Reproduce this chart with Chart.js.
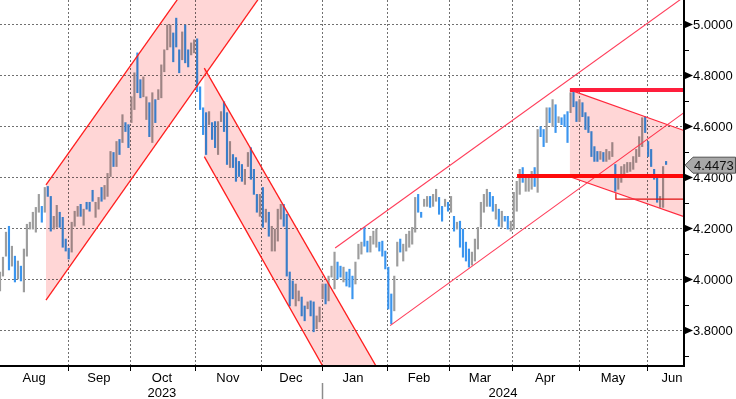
<!DOCTYPE html>
<html>
<head>
<meta charset="utf-8">
<title>Yield channels</title>
<script src="https://cdn.jsdelivr.net/npm/chart.js"></script>
<style>
  body { margin: 0; background: #fff; }
  #wrap { width: 736px; height: 399px; position: relative; }
</style>
</head>
<body>
<div id="wrap"><canvas id="yieldChart"></canvas></div>
<script>
// daily bars, one per trading day from the start of Aug 2023
const highs = [
  4.029, 4.087, 4.185, 4.208, 4.130, 4.091, 4.072, 4.052, 4.119, 4.216,
  4.224, 4.263, 4.282, 4.333, 4.286, 4.360, 4.364, 4.325, 4.247, 4.290,
  4.263, 4.243, 4.158, 4.122, 4.224, 4.267, 4.286, 4.294, 4.275, 4.302,
  4.302, 4.349, 4.302, 4.321, 4.360, 4.368, 4.415, 4.501, 4.497, 4.540,
  4.548, 4.645, 4.614, 4.606, 4.715, 4.809, 4.887, 4.782, 4.793, 4.715,
  4.692, 4.731, 4.704, 4.743, 4.840, 4.899, 4.996, 4.996, 4.965, 5.023,
  4.899, 4.969, 4.996, 4.899, 4.926, 4.938, 4.942, 4.754, 4.672, 4.653,
  4.657, 4.614, 4.618, 4.618, 4.657, 4.696, 4.653, 4.540, 4.489, 4.477,
  4.462, 4.450, 4.431, 4.497, 4.516, 4.431, 4.333, 4.333, 4.360, 4.275,
  4.263, 4.208, 4.197, 4.275, 4.294, 4.294, 4.255, 4.029, 3.994, 3.982,
  3.955, 3.931, 3.896, 3.912, 3.916, 3.912, 3.857, 3.892, 3.982, 3.982,
  4.013, 4.052, 4.107, 4.068, 4.052, 4.048, 4.029, 4.040, 4.013, 4.068,
  4.138, 4.146, 4.204, 4.150, 4.169, 4.189, 4.197, 4.146, 4.150, 4.111,
  4.048, 3.943, 4.013, 4.146, 4.158, 4.138, 4.177, 4.189, 4.204, 4.321,
  4.333, 4.263, 4.314, 4.325, 4.325, 4.333, 4.353, 4.321, 4.286, 4.314,
  4.302, 4.325, 4.247, 4.224, 4.228, 4.197, 4.146, 4.119, 4.107, 4.158,
  4.204, 4.302, 4.333, 4.353, 4.341, 4.325, 4.294, 4.275, 4.267, 4.247,
  4.247, 4.228, 4.341, 4.384, 4.431, 4.438, 4.411, 4.411, 4.423, 4.438,
  4.587, 4.598, 4.587, 4.672, 4.672, 4.704, 4.684, 4.637, 4.633, 4.645,
  4.657, 4.731, 4.735, 4.696, 4.704, 4.692, 4.653, 4.637, 4.579, 4.520,
  4.501, 4.501, 4.497, 4.509, 4.501, 4.536, 4.450, 4.411, 4.442, 4.450,
  4.458, 4.458, 4.481, 4.509, 4.559, 4.633, 4.637, 4.540, 4.509, 4.431,
  4.403, 4.325, 4.442, 4.462
];
const lows = [
  3.955, 4.013, 4.091, 4.037, 4.052, 3.990, 4.002, 3.994, 3.951, 4.091,
  4.197, 4.197, 4.185, 4.263, 4.224, 4.263, 4.325, 4.189, 4.197, 4.204,
  4.204, 4.126, 4.111, 4.080, 4.107, 4.208, 4.247, 4.247, 4.212, 4.275,
  4.267, 4.306, 4.243, 4.275, 4.306, 4.314, 4.325, 4.403, 4.442, 4.442,
  4.489, 4.536, 4.579, 4.516, 4.614, 4.665, 4.731, 4.711, 4.715, 4.626,
  4.559, 4.536, 4.614, 4.704, 4.711, 4.813, 4.899, 4.910, 4.852, 4.910,
  4.809, 4.860, 4.848, 4.832, 4.879, 4.887, 4.735, 4.665, 4.567, 4.489,
  4.606, 4.548, 4.516, 4.489, 4.618, 4.579, 4.450, 4.438, 4.438, 4.384,
  4.403, 4.384, 4.372, 4.442, 4.392, 4.333, 4.263, 4.247, 4.204, 4.224,
  4.169, 4.111, 4.111, 4.150, 4.236, 4.208, 4.013, 3.896, 3.924, 3.896,
  3.916, 3.857, 3.838, 3.885, 3.857, 3.795, 3.807, 3.834, 3.924, 3.904,
  3.916, 4.009, 3.963, 4.002, 4.009, 3.990, 3.974, 3.970, 3.924, 3.982,
  4.080, 4.099, 4.130, 4.107, 4.107, 4.138, 4.126, 4.111, 4.091, 4.041,
  3.884, 3.826, 3.877, 4.052, 4.107, 4.072, 4.111, 4.126, 4.138, 4.185,
  4.263, 4.243, 4.286, 4.286, 4.282, 4.286, 4.306, 4.255, 4.228, 4.286,
  4.267, 4.263, 4.189, 4.197, 4.126, 4.087, 4.072, 4.048, 4.056, 4.072,
  4.119, 4.204, 4.263, 4.286, 4.286, 4.267, 4.236, 4.208, 4.204, 4.228,
  4.197, 4.189, 4.197, 4.267, 4.333, 4.380, 4.345, 4.345, 4.353, 4.364,
  4.341, 4.559, 4.520, 4.536, 4.614, 4.598, 4.575, 4.614, 4.606, 4.598,
  4.536, 4.653, 4.676, 4.618, 4.618, 4.637, 4.587, 4.575, 4.481, 4.462,
  4.462, 4.470, 4.462, 4.462, 4.470, 4.481, 4.345, 4.353, 4.380, 4.403,
  4.419, 4.423, 4.431, 4.458, 4.481, 4.520, 4.575, 4.481, 4.442, 4.392,
  4.302, 4.282, 4.282, 4.450
];
// 1 = up day (grey), 0 = down day (blue)
const dirs = [
  1,1,1,0,1,0,1,0,1,1,  1,1,1,1,0,1,0,0,1,1,  0,0,0,0,1,1,1,0,1,0,
  0,0,1,1,0,1,1,1,0,1,  0,1,0,0,1,1,0,0,1,1,  0,1,0,1,1,1,1,1,0,0,
  0,1,0,0,1,1,0,0,0,0,  1,0,0,1,1,0,0,1,0,0,  0,0,1,1,0,0,0,1,0,1,
  0,1,1,1,1,0,0,0,0,1,  1,0,0,1,0,0,1,1,1,0,  1,1,1,0,0,1,0,0,0,1,
  1,1,0,0,1,1,1,0,0,0,  0,0,1,1,0,1,1,1,1,1,  0,0,1,1,0,1,1,0,0,1,
  0,1,0,1,0,0,0,0,1,1,  1,1,1,1,0,0,1,0,1,0,  0,1,1,1,1,0,1,1,1,0,
  1,0,0,1,0,1,0,1,0,0,  0,1,0,0,1,0,0,0,0,0,  0,1,0,1,1,1,0,1,1,1,
  1,1,1,1,1,1,0,0,0,0,  0,1,1,0
];
const lastPrice = 4.4473;

// axes
const yTicks = [3.8, 4.0, 4.2, 4.4, 4.6, 4.8, 5.0];
const yMinorTicks = [3.7, 3.9, 4.1, 4.3, 4.5, 4.7, 4.9];
const monthEdges = [22.8, 43.5, 65.3, 87.4, 107.8, 129.6, 150.3, 171.4, 193.8, 216.6];
const monthLabels = ['Aug', 'Sep', 'Oct', 'Nov', 'Dec', 'Jan', 'Feb', 'Mar', 'Apr', 'May', 'Jun'];
const monthLabelPos = [11.4, 33.1, 54.2, 76.3, 97.4, 118.2, 140.3, 160.7, 182.5, 205.2, 225.0];
const yearLabels = ['2023', '2024'];
const yearLabelPos = [54.2, 168.4];
const yearBreak = 107.8;

// trend lines, [bar index, yield]
const ch1Upper = [[15.4, 4.370], [62, 5.139]];
const ch1Lower = [[15.4, 3.919], [89, 5.139]];
const ch2Upper = [[68.4, 4.827], [128, 3.618]];
const ch2Lower = [[68.4, 4.481], [110, 3.620]];
const ch3Upper = [[112.2, 4.123], [229, 5.106]];
const ch3Lower = [[130.6, 3.819], [229, 4.653]];
const wedgeUpper = [[190.8, 4.742], [229, 4.583]];
const wedgeLower = [[190.8, 4.402], [229, 4.246]];
const resistance = [[190.8, 4.742], [229, 4.742]];
const support = [[173.1, 4.405], [229, 4.405]];
const juneLow = [[206.2, 4.337], [206.2, 4.314], [229, 4.314]];

// shaded channels
const ch1Shade = [[15.4, 4.370], [62, 5.139], [89, 5.139], [15.4, 3.919]];
const ch2Shade = [[68.4, 4.827], [128, 3.618], [110, 3.620], [68.4, 4.481]];
const wedgeShade = [[190.8, 4.742], [229, 4.583], [229, 4.246], [190.8, 4.402]];

const GREY = '#9d9d9d';
const BLUE = '#3a95ef';
const FONT = '13px "Liberation Sans", Arial, sans-serif';

function trend(points, color, width) {
  return {
    type: 'line',
    data: points.map(p => ({ x: p[0], y: p[1] })),
    borderColor: color,
    borderWidth: width,
    pointRadius: 0,
    fill: false,
    tension: 0,
    order: 0
  };
}

const frame = {
  id: 'frame',
  beforeDatasetsDraw(chart) {
    const { ctx, chartArea: a, scales: { x, y } } = chart;
    ctx.save();
    ctx.strokeStyle = '#707070';
    ctx.lineWidth = 1;
    ctx.setLineDash([2, 2]);
    ctx.beginPath();
    yTicks.forEach(v => {
      const py = Math.round(y.getPixelForValue(v)) + 0.5;
      ctx.moveTo(a.left, py);
      ctx.lineTo(a.right, py);
    });
    monthEdges.forEach(v => {
      const px = Math.round(x.getPixelForValue(v)) + 0.5;
      ctx.moveTo(px, a.top);
      ctx.lineTo(px, a.bottom);
    });
    ctx.stroke();
    ctx.restore();
  },
  afterDatasetsDraw(chart) {
    const { ctx, chartArea: a, scales: { x, y } } = chart;
    // pink channels, multiplied so the bars show through darker
    ctx.save();
    ctx.beginPath();
    ctx.rect(a.left, a.top, a.right - a.left, a.bottom - a.top);
    ctx.clip();
    ctx.globalCompositeOperation = 'multiply';
    ctx.fillStyle = '#ffd6d6';
    [ch1Shade, ch2Shade, wedgeShade].forEach(poly => {
      ctx.beginPath();
      poly.forEach((p, i) => {
        const px = x.getPixelForValue(p[0]);
        const py = y.getPixelForValue(p[1]);
        if (i === 0) ctx.moveTo(px, py); else ctx.lineTo(px, py);
      });
      ctx.closePath();
      ctx.fill();
    });
    ctx.restore();
  },
  afterDraw(chart) {
    const { ctx, chartArea: a, scales: { x, y } } = chart;
    ctx.save();
    // axis lines
    ctx.fillStyle = '#000';
    ctx.fillRect(a.right - 1, a.top, 2, a.bottom - a.top + 1);
    ctx.fillRect(a.left, a.bottom - 1, a.right - a.left + 1, 2);

    // y axis: arrows, minor ticks, labels
    ctx.font = FONT;
    ctx.textBaseline = 'middle';
    ctx.textAlign = 'left';
    yTicks.forEach(v => {
      const py = Math.round(y.getPixelForValue(v));
      ctx.beginPath();
      ctx.moveTo(a.right, py - 3.5);
      ctx.lineTo(a.right + 9, py + 0.5);
      ctx.lineTo(a.right, py + 4.5);
      ctx.closePath();
      ctx.fill();
      ctx.fillText(v.toFixed(4), a.right + 9, py + 1);
    });
    ctx.strokeStyle = '#000';
    ctx.lineWidth = 1;
    ctx.beginPath();
    yMinorTicks.forEach(v => {
      const py = Math.round(y.getPixelForValue(v)) + 0.5;
      ctx.moveTo(a.right, py);
      ctx.lineTo(a.right + 5, py);
    });
    // x axis ticks
    monthEdges.forEach(v => {
      const px = Math.round(x.getPixelForValue(v)) + 0.5;
      ctx.moveTo(px, a.bottom);
      ctx.lineTo(px, a.bottom + 5);
    });
    ctx.stroke();

    ctx.textAlign = 'center';
    monthLabels.forEach((m, i) => {
      ctx.fillText(m, x.getPixelForValue(monthLabelPos[i]), a.bottom + 12);
    });
    yearLabels.forEach((t, i) => {
      ctx.fillText(t, x.getPixelForValue(yearLabelPos[i]), a.bottom + 27);
    });
    const bx = Math.round(x.getPixelForValue(yearBreak)) + 0.5;
    ctx.strokeStyle = '#8c8c8c';
    ctx.lineWidth = 1.5;
    ctx.beginPath();
    ctx.moveTo(bx, a.bottom + 17);
    ctx.lineTo(bx, chart.height);
    ctx.stroke();

    // last price tag
    const ly = y.getPixelForValue(lastPrice);
    ctx.beginPath();
    ctx.moveTo(a.right + 1, ly);
    ctx.lineTo(a.right + 9, ly - 8);
    ctx.lineTo(chart.width - 0.5, ly - 8);
    ctx.lineTo(chart.width - 0.5, ly + 8);
    ctx.lineTo(a.right + 9, ly + 8);
    ctx.closePath();
    ctx.fillStyle = '#a8a8a8';
    ctx.fill();
    ctx.strokeStyle = '#505050';
    ctx.lineWidth = 1;
    ctx.stroke();
    ctx.fillStyle = '#111';
    ctx.textAlign = 'left';
    ctx.fillText(lastPrice.toFixed(4), a.right + 10, ly + 1);
    ctx.restore();
  }
};

new Chart(document.getElementById('yieldChart'), {
  type: 'bar',
  data: {
    datasets: [
      trend(support, '#ff0a0a', 4),
      trend(resistance, '#ff1e3c', 4),
      trend(ch1Upper, '#ff1f1f', 1.3),
      trend(ch1Lower, '#ff1f1f', 1.3),
      trend(ch2Upper, '#ff1f1f', 1.3),
      trend(ch2Lower, '#ff1f1f', 1.3),
      trend(ch3Upper, '#ff3d5a', 1.1),
      trend(ch3Lower, '#ff3d5a', 1.1),
      trend(wedgeUpper, '#ff2a40', 1.2),
      trend(wedgeLower, '#ff2a40', 1.2),
      trend(juneLow, '#e01515', 1.3),
      {
        type: 'bar',
        data: highs.map((h, i) => ({ x: i, y: [lows[i], h] })),
        backgroundColor: dirs.map(d => (d ? GREY : BLUE)),
        borderWidth: 0,
        barThickness: 1.5,
        grouped: false,
        order: 2
      }
    ]
  },
  options: {
    responsive: true,
    maintainAspectRatio: false,
    devicePixelRatio: 1,
    animation: false,
    events: [],
    layout: { padding: { left: 0, top: 0, right: 52, bottom: 33 } },
    scales: {
      x: { type: 'linear', min: 0, max: 229, offset: false, display: false },
      y: { type: 'linear', min: 3.661, max: 5.094, beginAtZero: false, display: false }
    },
    plugins: {
      legend: { display: false },
      tooltip: { enabled: false }
    }
  },
  plugins: [frame]
});
</script>
</body>
</html>
